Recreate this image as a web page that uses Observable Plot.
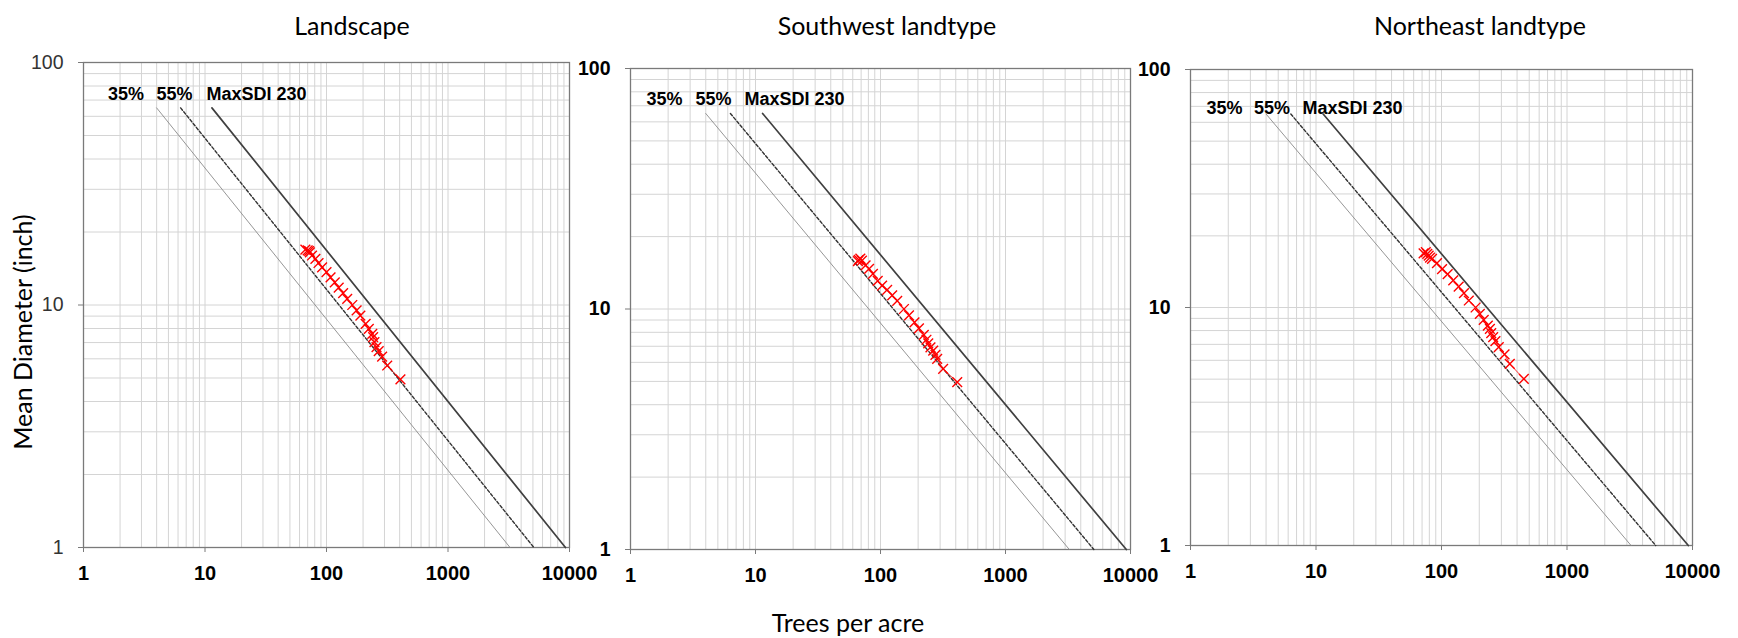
<!DOCTYPE html>
<html><head><meta charset="utf-8">
<script src="https://cdn.jsdelivr.net/npm/d3@7"></script>
<script src="https://cdn.jsdelivr.net/npm/@observablehq/plot@0.6"></script>
<style>
body{margin:0;background:#fff;}
#wrap{position:relative;width:1738px;height:638px;overflow:hidden;background:#fff;}
.t{position:absolute;font-family:Lato,"Open Sans",sans-serif;color:#000;white-space:nowrap;transform:translate(-50%,-50%);}
.panel{position:absolute;top:0;}
</style></head><body><div id="wrap"></div>
<script>
// ---- data ----
const xTicks = [1, 10, 100, 1000, 10000];
const yTicks = [1, 10, 100];
const xGrid = [2,3,4,5,6,7,8,9,10,20,30,40,50,60,70,80,90,100,200,300,400,500,600,700,800,900,1000,2000,3000,4000,5000,6000,7000,8000,9000];
const yGrid = [2,3,4,5,6,7,8,9,10,20,30,40,50,60,70,80,90];

const panelTitles = ["Landscape", "Southwest landtype", "Northeast landtype"];

// stocking lines (Reineke SDI): endpoints
const lineNames = ["35%", "55%", "MaxSDI 230"];
const lineTopTpa = [4.0, 6.3, 11.4];
const lineBottomTpa = [3240, 5090, 9260];
const lineD = [65, 1];

// label positions (TPA of left edge, diameter of label centre) per panel
const labelTpa = [[1.59, 3.99, 10.3], [1.34, 3.31, 8.17], [1.34, 3.21, 7.8]];
const labelD = [74, 74.6, 68.6];

// stand trajectories
const tpaLandscape = [67, 70, 72, 73, 76, 81, 86, 92, 100, 108, 117, 126, 137, 148, 163, 177, 190, 210, 223, 238, 242, 248, 258, 269, 287, 316, 406];
const dLandscape   = [16.9, 16.8, 16.7, 16.5, 16.0, 15.5, 14.9, 14.3, 13.65, 13.0, 12.4, 11.8, 11.2, 10.6, 10.0, 9.5, 9.05, 8.36, 7.98, 7.61, 7.37, 7.03, 6.70, 6.45, 6.13, 5.63, 4.93];
const tpaSouthwest = [66, 67, 69, 71, 76, 81, 87, 95, 103, 113, 124, 136, 154, 169, 187, 203, 222, 233, 241, 251, 264, 275, 284, 317, 411];
const dSouthwest   = [15.8, 16.0, 16.2, 15.9, 15.2, 14.7, 14.0, 13.1, 12.5, 12.0, 11.4, 10.8, 10.0, 9.4, 8.8, 8.3, 7.8, 7.45, 7.2, 6.93, 6.72, 6.45, 6.21, 5.64, 4.96];
const tpaNortheast = [72, 75, 77, 79, 81, 84, 92, 101, 112, 124, 137, 151, 165, 187, 202, 217, 234, 243, 249, 258, 269, 286, 318, 350, 453];
const dNortheast   = [16.9, 17.1, 16.8, 16.5, 16.2, 16.0, 15.35, 14.5, 13.8, 13.0, 12.25, 11.5, 10.7, 10.0, 9.4, 8.87, 8.4, 8.13, 7.8, 7.5, 7.22, 6.81, 6.35, 5.8, 5.01];

// ---- layout ----
const layout = [
  {left: 0,    mL: 83, fw: 486, mT: 62, fh: 485, mR: 40, titleX: 352, yBold: false},
  {left: 580,  mL: 50, fw: 500, mT: 68, fh: 481, mR: 10, titleX: 887, yBold: true},
  {left: 1140, mL: 50, fw: 502, mT: 69, fh: 476, mR: 40, titleX: 1480, yBold: true}
];
const series = [[tpaLandscape, dLandscape], [tpaSouthwest, dSouthwest], [tpaNortheast, dNortheast]];
const lineStyles = [
  {stroke: "#8a8a8a", strokeWidth: 0.9, strokeDasharray: null},
  {stroke: "#333", strokeWidth: 1.4, strokeDasharray: "3,2"},
  {stroke: "#404040", strokeWidth: 1.7, strokeDasharray: null}
];

const wrap = document.getElementById("wrap");
const H = 638;

layout.forEach((L, p) => {
  const pts = series[p][0].map((t, i) => ({tpa: t, d: series[p][1][i]}));
  const labels = lineNames.map((n, i) => ({name: n, tpa: labelTpa[p][i], d: labelD[p]}));
  const lineMarks = lineNames.map((n, i) => {
    const seg = [{tpa: lineTopTpa[i], d: lineD[0]}, {tpa: lineBottomTpa[i], d: lineD[1]}];
    const s = lineStyles[i];
    const o = {x: "tpa", y: "d", stroke: s.stroke, strokeWidth: s.strokeWidth};
    if (s.strokeDasharray) o.strokeDasharray = s.strokeDasharray;
    return Plot.line(seg, o);
  });
  const chart = Plot.plot({
    width: L.mL + L.fw + L.mR,
    height: H,
    marginLeft: L.mL, marginRight: L.mR, marginTop: L.mT, marginBottom: H - L.mT - L.fh,
    x: {type: "log", domain: [1, 10000]},
    y: {type: "log", domain: [1, 100]},
    style: {background: "transparent", overflow: "visible", fontFamily: "'Liberation Sans', Arial, sans-serif"},
    marks: [
      Plot.ruleX(xGrid, {stroke: "#d4d4d4", strokeWidth: 1}),
      Plot.ruleY(yGrid, {stroke: "#d4d4d4", strokeWidth: 1}),
      Plot.frame({stroke: "#7a7a7a", strokeWidth: 1.3}),
      Plot.axisX({ticks: xTicks, tickFormat: d => String(d), tickSize: 5, tickPadding: 13, fontSize: 20, fontWeight: "bold", stroke: "#7a7a7a", fill: "#000", label: null}),
      Plot.axisY({ticks: yTicks, tickFormat: d => String(d), tickSize: 5, tickPadding: 15, fontSize: 19.5, fontWeight: L.yBold ? "bold" : "normal", stroke: "#7a7a7a", fill: L.yBold ? "#000" : "#333", label: null}),
      ...lineMarks,
      Plot.line(pts, {x: "tpa", y: "d", stroke: "red", strokeWidth: 0.8}),
      Plot.dot(pts, {x: "tpa", y: "d", symbol: "times", r: 4.5, stroke: "red", strokeWidth: 1.4}),
      Plot.text(labels, {x: "tpa", y: "d", text: "name", textAnchor: "start", fontSize: 18, fontWeight: "bold", fill: "#000"})
    ]
  });
  chart.classList.add("panel");
  chart.style.left = L.left + "px";
  chart.style.maxWidth = "none";
  wrap.appendChild(chart);

  const t = document.createElement("div");
  t.className = "t";
  t.style.left = L.titleX + "px";
  t.style.top = "25px";
  t.style.fontSize = "25px";
  t.textContent = panelTitles[p];
  wrap.appendChild(t);
});

const yl = document.createElement("div");
yl.className = "t";
yl.style.left = "22px"; yl.style.top = "332px"; yl.style.fontSize = "25px";
yl.style.transform = "translate(-50%,-50%) rotate(-90deg)";
yl.textContent = "Mean Diameter (inch)";
wrap.appendChild(yl);

const xl = document.createElement("div");
xl.className = "t";
xl.style.left = "848px"; xl.style.top = "622px"; xl.style.fontSize = "25px";
xl.textContent = "Trees per acre";
wrap.appendChild(xl);
</script></body></html>
